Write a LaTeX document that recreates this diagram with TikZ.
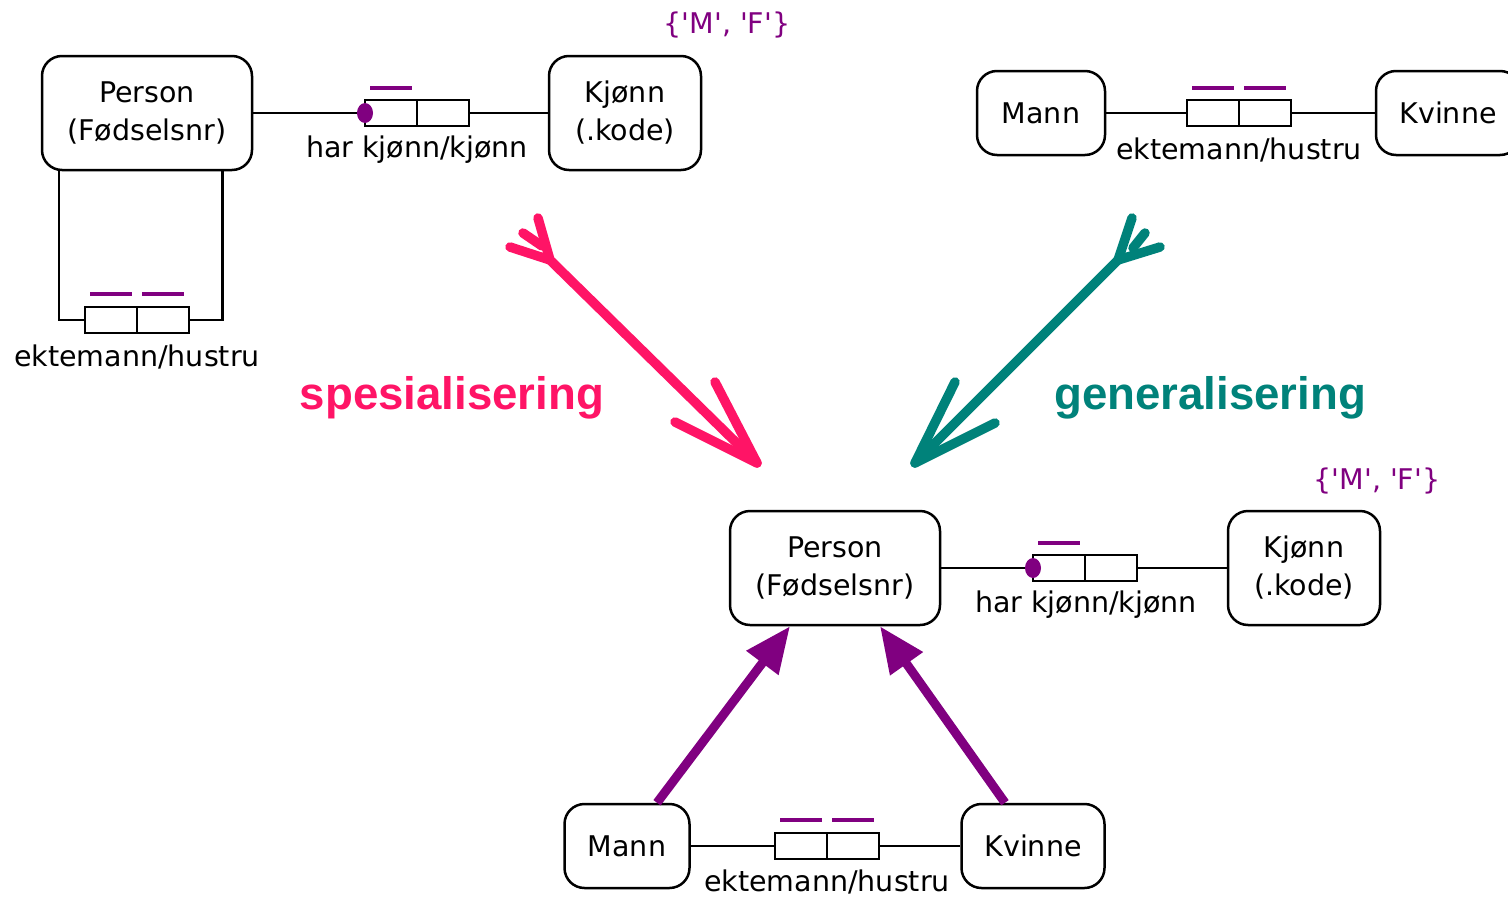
\documentclass[tikz,border=0pt]{standalone}
\usepackage{fontspec}
\setmainfont{DejaVu Sans}[Ligatures=TeXOff]
\newfontfamily\labelfont{Liberation Sans}
\usetikzlibrary{arrows.meta,calc}
\definecolor{pinkred}{HTML}{FF1466}
\definecolor{tealg}{HTML}{00827A}
\definecolor{plum}{HTML}{800080}

\begin{document}
\begin{tikzpicture}[x=1pt,y=-1pt,
  ent/.style={draw,line width=2.5pt,rounded corners=20pt,align=center,inner sep=0pt,
              font=\fontsize{28.5}{38}\selectfont},
  half/.style={draw,line width=2.5pt,minimum width=52pt,minimum height=26pt,inner sep=0pt,outer sep=0pt},
  link/.style={line width=2.5pt},
  bar/.style={plum,line width=3.5pt},
  rlabel/.style={inner sep=0pt,font=\fontsize{28.5}{34}\selectfont},
  dom/.style={plum,inner sep=0pt,font=\fontsize{28.5}{34}\selectfont},
  bigarrow/.style={line width=9.5pt,line cap=round,line join=round},
  isa/.style={plum,line width=9pt,-{Triangle[length=46pt,width=38pt]}},
  kind/.style={inner sep=0pt,font=\labelfont\bfseries\fontsize{45.6}{50}\selectfont}
]
\useasboundingbox (0,0) rectangle (1508,897);

% ---------- top left: Person with gender and marriage ----------
\node[ent,minimum width=210pt,minimum height=114pt] (p1) at (147,113) {Person\\(Fødselsnr)};
\node[ent,minimum width=152pt,minimum height=114pt] (k1) at (625,113) {Kjønn\\(.kode)};
\node[dom] (d1) at (727,25) {\{'M', 'F'\}};

\node[half] (ra1) at (391,113) {};
\node[half] (rb1) at (443,113) {};
\draw[link] (p1.east) -- (ra1.west);
\draw[link] (rb1.east) -- (k1.west);
\fill[plum] (ra1.west) ellipse [x radius=8pt, y radius=10pt];
\draw[bar] ([xshift=5pt,yshift=12pt]ra1.north west) -- ([xshift=-5pt,yshift=12pt]ra1.north east);
\node[rlabel] (l1) at (417,150) {har kjønn/kjønn};

\node[half] (sa) at (111,320) {};
\node[half] (sb) at (163,320) {};
\draw[link] ([xshift=18pt]p1.south west) |- (sa.west);
\draw[link] ([xshift=-31pt]p1.south east) |- (sb.east);
\draw[bar] ([xshift=5pt,yshift=13pt]sa.north west) -- ([xshift=-5pt,yshift=13pt]sa.north east);
\draw[bar] ([xshift=5pt,yshift=13pt]sb.north west) -- ([xshift=-5pt,yshift=13pt]sb.north east);
\node[rlabel] (l2) at (137,357) {ektemann/hustru};

% ---------- top right: Mann and Kvinne ----------
\node[ent,minimum width=128pt,minimum height=84pt] (m1) at (1041,113) {Mann};
\node[ent,minimum width=144pt,minimum height=84pt] (w1) at (1448,113) {Kvinne};
\node[half] (ta) at (1213,113) {};
\node[half] (tb) at (1265,113) {};
\draw[link] (m1.east) -- (ta.west);
\draw[link] (tb.east) -- (w1.west);
\draw[bar] ([xshift=5pt,yshift=12pt]ta.north west) -- ([xshift=-5pt,yshift=12pt]ta.north east);
\draw[bar] ([xshift=5pt,yshift=12pt]tb.north west) -- ([xshift=-5pt,yshift=12pt]tb.north east);
\node[rlabel] (l3) at (1239,150) {ektemann/hustru};

% ---------- transformation arrows ----------
\coordinate (sT) at (550,260);
\coordinate (sH) at (757,463);
\draw[bigarrow,pinkred] (sT) -- (sH);
\draw[bigarrow,pinkred] (715,382) -- (sH) -- (675,422);
\draw[bigarrow,pinkred] (538,218) -- (sT) -- (510,247);
\draw[bigarrow,pinkred] (523,233) -- (542,246);
\node[kind,pinkred] (spes) at (452,398) {spesialisering};

\coordinate (gT) at (1118,260);
\coordinate (gH) at (915,463);
\draw[bigarrow,tealg] (gT) -- (gH);
\draw[bigarrow,tealg] (955,382) -- (gH) -- (995,423);
\draw[bigarrow,tealg] (1132,218) -- (gT) -- (1160,247);
\draw[bigarrow,tealg] (1145,233) -- (1133,248);
\node[kind,tealg] (gen) at (1210,398) {generalisering};

% ---------- bottom: generalised model ----------
\node[ent,minimum width=210pt,minimum height=114pt] (p2) at (835,568) {Person\\(Fødselsnr)};
\node[ent,minimum width=152pt,minimum height=114pt] (k2) at (1304,568) {Kjønn\\(.kode)};
\node[dom] (d2) at (1377,481) {\{'M', 'F'\}};

\node[half] (ua) at (1059,568) {};
\node[half] (ub) at (1111,568) {};
\draw[link] (p2.east) -- (ua.west);
\draw[link] (ub.east) -- (k2.west);
\fill[plum] (ua.west) ellipse [x radius=8pt, y radius=10pt];
\draw[bar] ([xshift=5pt,yshift=12pt]ua.north west) -- ([xshift=-5pt,yshift=12pt]ua.north east);
\node[rlabel] (l4) at (1086,605) {har kjønn/kjønn};

\node[ent,minimum width=125pt,minimum height=84pt] (m2) at (627,846) {Mann};
\node[ent,minimum width=143pt,minimum height=84pt] (w2) at (1033,846) {Kvinne};
\node[half] (va) at (801,846) {};
\node[half] (vb) at (853,846) {};
\draw[link] (m2.east) -- (va.west);
\draw[link] (vb.east) -- (w2.west);
\draw[bar] ([xshift=5pt,yshift=13pt]va.north west) -- ([xshift=-5pt,yshift=13pt]va.north east);
\draw[bar] ([xshift=5pt,yshift=13pt]vb.north west) -- ([xshift=-5pt,yshift=13pt]vb.north east);
\node[rlabel] (l5) at (827,882) {ektemann/hustru};

\draw[isa] ([xshift=30pt]m2.north) -- ([xshift=-45pt]p2.south);
\draw[isa] ([xshift=-28pt]w2.north) -- ([xshift=45pt]p2.south);
\end{tikzpicture}
\end{document}
